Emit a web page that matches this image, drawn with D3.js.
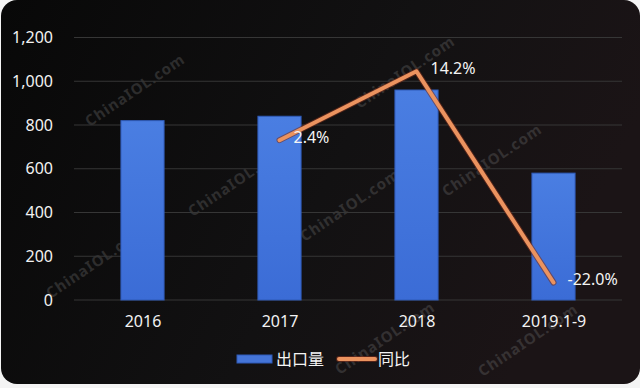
<!DOCTYPE html>
<html>
<head>
<meta charset="utf-8">
<script src="https://cdn.jsdelivr.net/npm/d3@7"></script>
<style>
  body { margin: 0; background: #f4f4f4; }
  svg { display: block; }
  text { font-family: "Noto Sans", "Noto Sans CJK SC", sans-serif; }
</style>
</head>
<body>
<div id="chart"></div>
<script>
// chart data
var categories = ["2016", "2017", "2018", "2019.1-9"];
var exportVolume = [820, 840, 960, 580];          // 出口量
var yoyGrowth = [null, 2.4, 14.2, -22.0];         // 同比 (%)
var yTicks = [0, 200, 400, 600, 800, 1000, 1200];
var legendLabels = ["出口量", "同比"];
var watermarks = [[135, 90], [96, 262], [238, 180], [350, 205], [405, 72], [492, 160], [385, 338], [528, 340]];

var W = 640, H = 388;
var margin = {top: 37.5, right: 18, bottom: 88, left: 74};

var svg = d3.select("#chart").append("svg")
    .attr("width", W)
    .attr("height", H);

var defs = svg.append("defs");
var bg = defs.append("linearGradient").attr("id", "bg").attr("x1", 0).attr("x2", 1).attr("y1", 0).attr("y2", 0.3);
bg.append("stop").attr("offset", "0%").attr("stop-color", "#080808");
bg.append("stop").attr("offset", "60%").attr("stop-color", "#121112");
bg.append("stop").attr("offset", "100%").attr("stop-color", "#1b1416");

var barGrad = defs.append("linearGradient").attr("id", "barGrad").attr("x1", 0).attr("x2", 0).attr("y1", 0).attr("y2", 1);
barGrad.append("stop").attr("offset", "0%").attr("stop-color", "#4a7ee2");
barGrad.append("stop").attr("offset", "100%").attr("stop-color", "#3b6cd6");

// dark card with rounded corners
svg.append("rect")
    .attr("x", 1).attr("y", 0)
    .attr("width", W - 1).attr("height", H - 4)
    .attr("rx", 16).attr("ry", 16)
    .attr("fill", "url(#bg)");

// watermark text
svg.append("g").selectAll("text")
    .data(watermarks)
    .enter().append("text")
    .attr("transform", function(d) { return "translate(" + d[0] + "," + d[1] + ") rotate(-34)"; })
    .attr("text-anchor", "middle")
    .attr("dy", "0.35em")
    .style("font-size", "15px")
    .style("font-weight", "bold")
    .style("letter-spacing", "1px")
    .attr("fill", "#6a6a6a")
    .attr("opacity", 0.35)
    .text("ChinaIOL.com");

var g = svg.append("g")
    .attr("transform", "translate(" + margin.left + "," + margin.top + ")");

var x = d3.scalePoint()
    .domain(categories)
    .range([0, 548])
    .padding(0.5);

var y = d3.scaleLinear()
    .domain([0, 1200])
    .range([300 - margin.top, 0]);

// hidden secondary axis for the growth line
var y2 = d3.scaleLinear()
    .domain([-25, 20])
    .range([300 - margin.top, 0]);

// gridlines
g.append("g")
    .selectAll("line")
    .data(yTicks)
    .enter().append("line")
    .attr("x1", 0).attr("x2", 548)
    .attr("y1", function(d) { return y(d); })
    .attr("y2", function(d) { return y(d); })
    .attr("stroke", "#363636")
    .attr("stroke-width", 1);

// y axis labels
var yAxis = g.append("g")
    .attr("transform", "translate(-21,0)")
    .call(d3.axisLeft(y).tickValues(yTicks).tickSize(0).tickPadding(0).tickFormat(d3.format(",")));
yAxis.select(".domain").remove();
yAxis.selectAll("text")
    .attr("fill", "#f2f2f2")
    .style("font-size", "16px")
    .style("font-family", "'Noto Sans', sans-serif");

// x axis labels
var xAxis = g.append("g")
    .attr("transform", "translate(0," + (300 - margin.top) + ")")
    .call(d3.axisBottom(x).tickSize(0).tickPadding(16));
xAxis.select(".domain").remove();
xAxis.selectAll("text")
    .attr("fill", "#f2f2f2")
    .style("font-size", "16px")
    .style("font-family", "'Noto Sans', sans-serif");

// bars
var barW = x.step() * 0.315;
g.append("g")
    .selectAll("rect")
    .data(exportVolume)
    .enter().append("rect")
    .attr("x", function(d, i) { return x(categories[i]) - barW / 2; })
    .attr("y", function(d) { return y(d); })
    .attr("width", barW)
    .attr("height", function(d) { return y(0) - y(d); })
    .attr("fill", "url(#barGrad)")
    .attr("stroke", "#2f5bb8")
    .attr("stroke-width", 1);

// growth line
var lineData = yoyGrowth.map(function(v, i) { return {cat: categories[i], v: v}; })
    .filter(function(d) { return d.v !== null; });

var line = d3.line()
    .x(function(d) { return x(d.cat); })
    .y(function(d) { return y2(d.v); });

g.append("path")
    .datum(lineData)
    .attr("d", line)
    .attr("fill", "none")
    .attr("stroke", "#7a2e1c")
    .attr("stroke-width", 6)
    .attr("stroke-linejoin", "round")
    .attr("stroke-linecap", "round")
    .attr("opacity", 0.6);

g.append("path")
    .datum(lineData)
    .attr("d", line)
    .attr("fill", "none")
    .attr("stroke", "#eb935f")
    .attr("stroke-width", 4)
    .attr("stroke-linejoin", "round")
    .attr("stroke-linecap", "round");

// data labels (plain hyphen for the minus sign, as in the source)
g.append("g")
    .selectAll("text")
    .data(lineData)
    .enter().append("text")
    .attr("x", function(d) { return x(d.cat) + 14; })
    .attr("y", function(d) { return y2(d.v) - 3; })
    .attr("dy", "0.35em")
    .attr("fill", "#f4f4f4")
    .style("font-size", "16px")
    .text(function(d) { return d.v.toFixed(1) + "%"; });

// legend
var legend = svg.append("g").attr("transform", "translate(237,359)");
legend.append("rect")
    .attr("x", 0).attr("y", -4)
    .attr("width", 35).attr("height", 8)
    .attr("fill", "#4575d8")
    .attr("stroke", "#2f5bb8");
legend.append("text")
    .attr("x", 39).attr("dy", "0.35em")
    .attr("fill", "#f4f4f4")
    .style("font-size", "16px")
    .style("font-family", "'Noto Sans CJK SC', sans-serif")
    .text(legendLabels[0]);
legend.append("line")
    .attr("x1", 102).attr("x2", 138)
    .attr("stroke", "#7a2e1c").attr("stroke-width", 6)
    .attr("stroke-linecap", "round").attr("opacity", 0.6);
legend.append("line")
    .attr("x1", 102).attr("x2", 138)
    .attr("stroke", "#eb935f").attr("stroke-width", 4)
    .attr("stroke-linecap", "round");
legend.append("text")
    .attr("x", 141).attr("dy", "0.35em")
    .attr("fill", "#f4f4f4")
    .style("font-size", "16px")
    .style("font-family", "'Noto Sans CJK SC', sans-serif")
    .text(legendLabels[1]);
</script>
</body>
</html>
